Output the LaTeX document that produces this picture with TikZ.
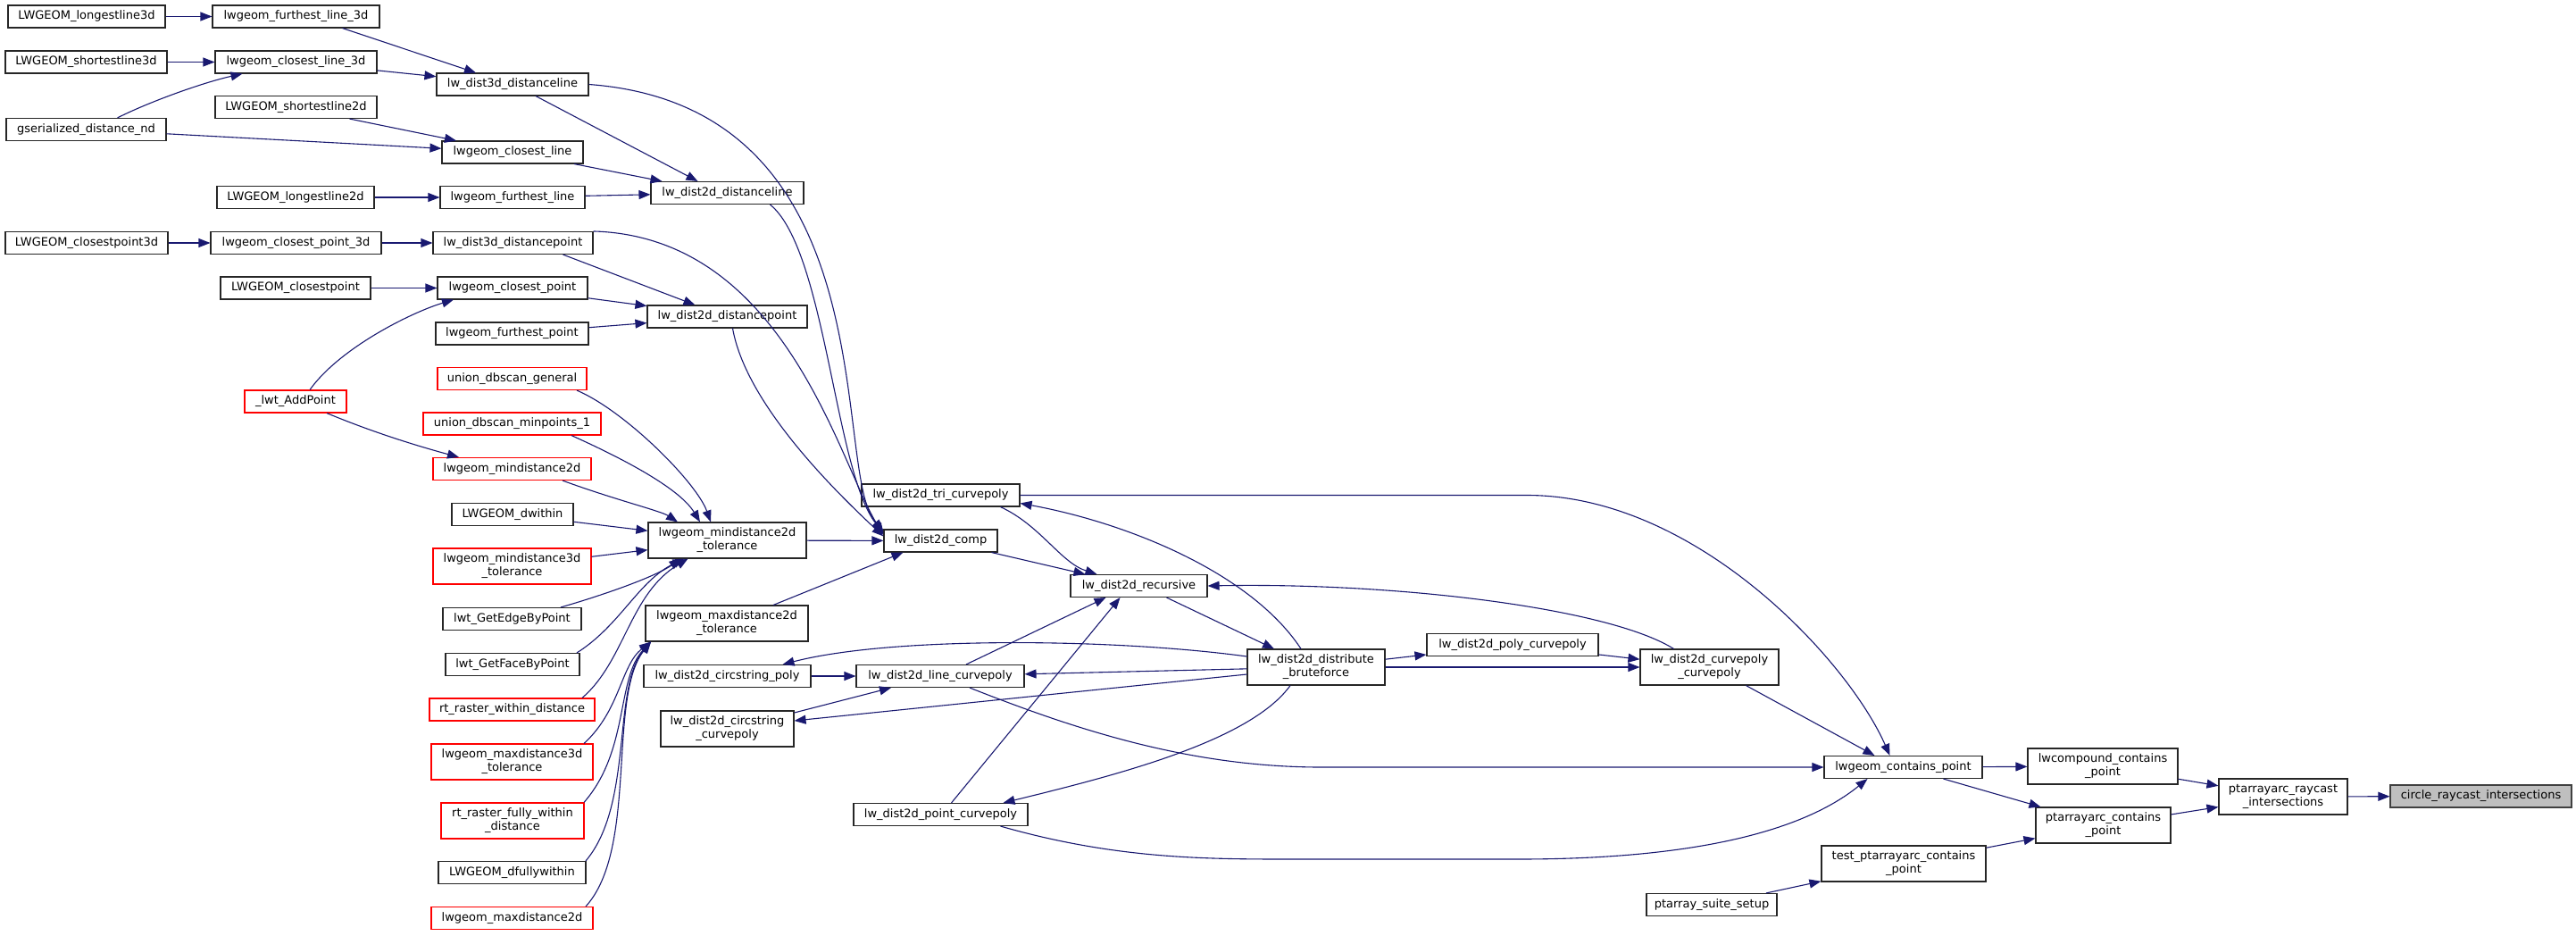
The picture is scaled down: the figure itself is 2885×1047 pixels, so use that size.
\documentclass[tikz,border=0pt]{standalone}
\usepackage{fontspec}
\setmainfont{DejaVu Sans}
\usepackage{tikz}
\tikzset{x=1pt,y=-1pt}
\usetikzlibrary{arrows.meta}
\definecolor{edgeblue}{HTML}{191970}
\definecolor{rootgray}{HTML}{BFBFBF}

\begin{document}
\begin{tikzpicture}[
    fn/.style={draw=black!85, line width=1.1pt, inner sep=0pt, minimum height=25,
      align=center, font=\fontsize{13}{15}\selectfont},
    two/.style={minimum height=40},
    nodoc/.style={draw=red},
    root/.style={fill=rootgray, draw=black!75},
    call/.style={edgeblue, line width=1.1pt, -{Triangle[length=13pt,width=10pt]}}]
    \useasboundingbox (0,0) rectangle (2885,1047);
    % callers, far left
    \node[fn, minimum width=176] (ll3d) at (97,18.5) {LWGEOM\_longestline3d};
    \node[fn, minimum width=181] (sl3d) at (96.5,69.5) {LWGEOM\_shortestline3d};
    \node[fn, minimum width=179] (gsd) at (96.5,145) {gserialized\_distance\_nd};
    \node[fn, minimum width=182] (cp3d) at (97,272) {LWGEOM\_closestpoint3d};
    \node[fn, minimum width=187] (fl3d) at (331.5,18.5) {lwgeom\_furthest\_line\_3d};
    \node[fn, minimum width=181] (cl3d) at (331.5,69.5) {lwgeom\_closest\_line\_3d};
    \node[fn, minimum width=181] (sl2d) at (331.5,120) {LWGEOM\_shortestline2d};
    \node[fn, minimum width=176] (ll2d) at (331,221) {LWGEOM\_longestline2d};
    \node[fn, minimum width=191] (lcp3d) at (331.5,272) {lwgeom\_closest\_point\_3d};
    \node[fn, minimum width=168] (lwcp) at (331,322.5) {LWGEOM\_closestpoint};
    \node[fn, nodoc, minimum width=114] (addpt) at (331,449.5) {\_lwt\_AddPoint};
    % third column
    \node[fn, minimum width=170] (d3dl) at (574,94.5) {lw\_dist3d\_distanceline};
    \node[fn, minimum width=158] (cl) at (574,170.5) {lwgeom\_closest\_line};
    \node[fn, minimum width=162] (fl) at (574,221) {lwgeom\_furthest\_line};
    \node[fn, minimum width=179] (d3dp) at (574.5,272) {lw\_dist3d\_distancepoint};
    \node[fn, minimum width=168] (lcpt) at (574,322.5) {lwgeom\_closest\_point};
    \node[fn, minimum width=171] (lfpt) at (573.5,373.5) {lwgeom\_furthest\_point};
    \node[fn, nodoc, minimum width=167] (udg) at (573.5,424) {union\_dbscan\_general};
    \node[fn, nodoc, minimum width=199] (udm) at (573.5,474.5) {union\_dbscan\_minpoints\_1};
    \node[fn, nodoc, minimum width=177] (md2d) at (573.5,525) {lwgeom\_mindistance2d};
    \node[fn, minimum width=136] (dwithin) at (574,576) {LWGEOM\_dwithin};
    \node[fn, two, nodoc, minimum width=177] (md3t) at (573.5,634) {lwgeom\_mindistance3d\\\_tolerance};
    \node[fn, minimum width=155] (edgept) at (573.5,693) {lwt\_GetEdgeByPoint};
    \node[fn, minimum width=150] (facept) at (574,744) {lwt\_GetFaceByPoint};
    \node[fn, nodoc, minimum width=185] (rwd) at (573.5,794.5) {rt\_raster\_within\_distance};
    \node[fn, two, nodoc, minimum width=181] (mx3t) at (573.5,853) {lwgeom\_maxdistance3d\\\_tolerance};
    \node[fn, two, nodoc, minimum width=160] (rfw) at (574,919) {rt\_raster\_fully\_within\\\_distance};
    \node[fn, minimum width=165] (dfw) at (573.5,977) {LWGEOM\_dfullywithin};
    \node[fn, nodoc, minimum width=181] (mx2d) at (573.5,1028) {lwgeom\_maxdistance2d};
    % fourth column
    \node[fn, minimum width=171] (d2dl) at (814.5,216) {lw\_dist2d\_distanceline};
    \node[fn, minimum width=179] (d2dp) at (814.5,354.5) {lw\_dist2d\_distancepoint};
    \node[fn, two, minimum width=177] (mdt) at (814.5,605) {lwgeom\_mindistance2d\\\_tolerance};
    \node[fn, two, minimum width=182] (mxdt) at (814,698) {lwgeom\_maxdistance2d\\\_tolerance};
    \node[fn, minimum width=187] (csp) at (814.5,757) {lw\_dist2d\_circstring\_poly};
    \node[fn, two, minimum width=149] (csc) at (814.5,816) {lw\_dist2d\_circstring\\\_curvepoly};
    % middle
    \node[fn, minimum width=177] (tri) at (1053.5,554.5) {lw\_dist2d\_tri\_curvepoly};
    \node[fn, minimum width=127] (comp) at (1053.5,605.5) {lw\_dist2d\_comp};
    \node[fn, minimum width=188] (lcv) at (1053,757) {lw\_dist2d\_line\_curvepoly};
    \node[fn, minimum width=195] (pcv) at (1053.5,912) {lw\_dist2d\_point\_curvepoly};
    \node[fn, minimum width=153] (rec) at (1275.5,656) {lw\_dist2d\_recursive};
    \node[fn, two, minimum width=154] (bf) at (1474,747) {lw\_dist2d\_distribute\\\_bruteforce};
    \node[fn, minimum width=192] (pcc) at (1694,722) {lw\_dist2d\_poly\_curvepoly};
    \node[fn, two, minimum width=155] (ccc) at (1914.5,747) {lw\_dist2d\_curvepoly\\\_curvepoly};
    \node[fn, minimum width=146] (suite) at (1917,1013) {ptarray\_suite\_setup};
    % right end
    \node[fn, minimum width=177] (cpt) at (2131.5,859) {lwgeom\_contains\_point};
    \node[fn, two, minimum width=184] (test) at (2132,967) {test\_ptarrayarc\_contains\\\_point};
    \node[fn, two, minimum width=168] (lwc) at (2355,858) {lwcompound\_contains\\\_point};
    \node[fn, two, minimum width=151] (pac) at (2355.5,924) {ptarrayarc\_contains\\\_point};
    \node[fn, two, minimum width=144] (ray) at (2557,892) {ptarrayarc\_raycast\\\_intersections};
    \node[fn, root, minimum width=203] (circ) at (2778.5,891.5) {circle\_raycast\_intersections};

    % edges
    \draw[call] (ll3d) -- (fl3d);
    \draw[call] (sl3d) -- (cl3d);
    \draw[call] ([xshift=35]gsd.north) .. controls (165,115) and (225,93) .. ([xshift=-60]cl3d.south);
    \draw[call] (gsd) -- (cl);
    \draw[call] (cp3d) -- (lcp3d);
    \draw[call] ([xshift=16]addpt.north) .. controls (380,390) and (460,350) .. ([xshift=-66]lcpt.south);
    \draw[call] ([xshift=35]addpt.south) .. controls (420,485) and (470,500) .. ([xshift=-59.5]md2d.north);
    \draw[call] ([xshift=52]fl3d.south) -- ([xshift=-41]d3dl.north);
    \draw[call] (cl3d) -- (d3dl);
    \draw[call] ([xshift=60]sl2d.south) -- ([xshift=-63]cl.north);
    \draw[call] (ll2d) -- (fl);
    \draw[call] (lcp3d) -- (d3dp);
    \draw[call] (lwcp) -- (lcpt);
    \draw[call] ([xshift=26]d3dl.south) -- ([xshift=-33]d2dl.north);
    \draw[call] ([xshift=69]cl.south) -- ([xshift=-73]d2dl.north);
    \draw[call] (fl) -- (d2dl);
    \draw[call] ([xshift=56]d3dp.south) -- ([xshift=-36]d2dp.north);
    \draw[call] (lcpt) -- (d2dp);
    \draw[call] (lfpt) -- (d2dp);
    % into lw_dist2d_comp
    \draw[call] (d3dl.east) .. controls (1000,120) and (930,530) .. ([yshift=11]comp.west);
    \draw[call] ([xshift=48]d2dl.south) .. controls (925,280) and (935,530) .. ([yshift=9]comp.west);
    \draw[call] (d3dp.north east) .. controls (880,265) and (940,520) .. ([yshift=7]comp.west);
    \draw[call] ([xshift=6]d2dp.south) .. controls (835,450) and (930,545) .. ([yshift=5]comp.west);
    \draw[call] ([xshift=72.5]udg.south) .. controls (700,460) and (780,540) .. ([xshift=-18.5]mdt.north);
    \draw[call] ([xshift=66.5]udm.south) .. controls (690,510) and (760,545) .. ([xshift=-30.5]mdt.north);
    \draw[call] ([xshift=56.5]md2d.south) .. controls (690,560) and (740,572) .. ([xshift=-55.5]mdt.north);
    \draw[call] (dwithin) -- (mdt);
    \draw[call] (md3t) -- (mdt);
    \draw[call] ([xshift=54.5]edgept.north) .. controls (680,665) and (735,645) .. ([xshift=-52]mdt.south);
    \draw[call] ([xshift=72]facept.north) .. controls (695,700) and (715,650) .. ([xshift=-48]mdt.south);
    \draw[call] ([xshift=78.5]rwd.north) .. controls (700,740) and (705,665) .. ([xshift=-44]mdt.south);
    \draw[call] ([xshift=80.5]mx3t.north) .. controls (695,795) and (695,745) .. ([xshift=-85]mxdt.south);
    \draw[call] ([xshift=80]rfw.north) .. controls (705,840) and (690,760) .. ([xshift=-85]mxdt.south);
    \draw[call] ([xshift=82.5]dfw.north) .. controls (710,900) and (685,770) .. ([xshift=-85]mxdt.south);
    \draw[call] ([xshift=82.5]mx2d.north) .. controls (715,950) and (680,780) .. ([xshift=-85]mxdt.south);
    \draw[call] (mdt) -- (comp);
    \draw[call] ([xshift=52]mxdt.north) -- ([xshift=-42]comp.south);
    \draw[call] (csp) -- (lcv);
    \draw[call] ([yshift=18]csc.east) -- ([xshift=-55]lcv.south);
    % lw_dist2d_recursive and the bruteforce loop
    \draw[call] ([xshift=57]comp.south) -- ([xshift=-60]rec.north);
    \draw[call] ([xshift=67]tri.south) .. controls (1165,588) and (1188,630) .. ([xshift=-47]rec.north);
    \draw[call] ([xshift=29]lcv.north) -- ([xshift=-37]rec.south);
    \draw[call] ([xshift=12]pcv.north) -- ([xshift=-21]rec.south);
    \draw[call] ([xshift=31]rec.south) -- ([xshift=-47]bf.north);
    \draw[call] ([xshift=-17]bf.north) .. controls (1400,640) and (1260,585) .. ([yshift=-9]tri.east);
    \draw[call] ([yshift=12]bf.west) .. controls (1250,715) and (1000,712) .. ([xshift=62]csp.north);
    \draw[call] (bf) -- (lcv);
    \draw[call] ([yshift=-8]bf.west) -- ([yshift=9]csc.east);
    \draw[call] ([xshift=-29]bf.south) .. controls (1400,830) and (1250,868) .. ([xshift=70]pcv.north);
    \draw[call] (bf) -- (pcc);
    \draw[call] (bf) -- (ccc);
    \draw[call] (pcc) -- (ccc);
    \draw[call] ([xshift=-40]ccc.north) .. controls (1800,680) and (1560,652) .. (rec.east);
    % into lwgeom_contains_point
    \draw[call] (tri.east) -- (1710,554.5) .. controls (1900,554.5) and (2070,740) .. ([xshift=-15]cpt.north);
    \draw[call] ([xshift=41]ccc.south) -- ([xshift=-32]cpt.north);
    \draw[call] ([xshift=33]lcv.south) .. controls (1200,815) and (1330,859) .. (1480,859) -- (cpt.west);
    \draw[call] ([xshift=67]pcv.south) .. controls (1250,962) and (1350,962) .. (1450,962) -- (1700,962)
        .. controls (1900,962) and (2020,930) .. ([xshift=-40]cpt.south);
    \draw[call] (cpt) -- (lwc);
    \draw[call] ([xshift=45]cpt.south) -- ([xshift=-70]pac.north);
    \draw[call] (lwc) -- (ray);
    \draw[call] (pac) -- (ray);
    \draw[call] (test) -- (pac);
    \draw[call] (suite) -- (test);
    \draw[call] (ray) -- (circ);
\end{tikzpicture}
\end{document}
